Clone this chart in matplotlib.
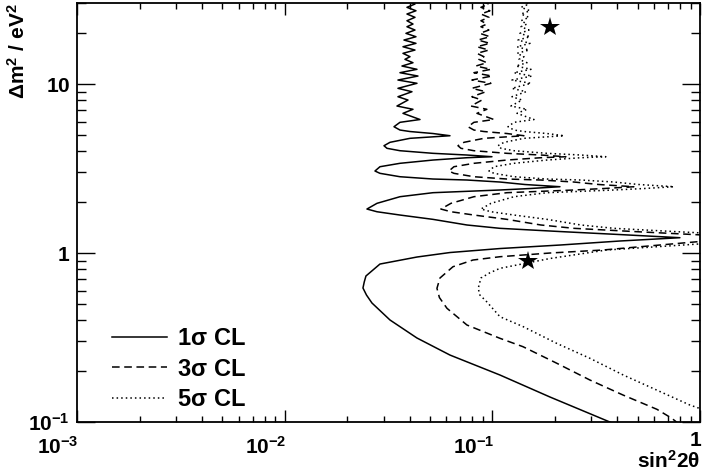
import matplotlib
matplotlib.use("Agg")
import matplotlib.pyplot as plt
from matplotlib.ticker import LogLocator, NullFormatter, FixedLocator, FixedFormatter
from matplotlib.transforms import ScaledTranslation

plt.rcParams['font.family'] = ['Liberation Sans', 'DejaVu Sans']
plt.rcParams['font.weight'] = 'bold'
plt.rcParams['mathtext.fontset'] = 'custom'
plt.rcParams['mathtext.rm'] = 'Liberation Sans:bold'
plt.rcParams['mathtext.bf'] = 'Liberation Sans:bold'
plt.rcParams['mathtext.it'] = 'Liberation Sans'

# ---- data ----
sin2_1s = [0.385, 0.1894, 0.1088, 0.06251, 0.04335, 0.03214, 0.02632, 0.02477, 0.02382,
           0.02416, 0.02462, 0.02876, 0.04335, 0.06251, 0.1088, 0.2116, 0.4115, 0.8000,
           0.4115, 0.2116, 0.1088, 0.07544, 0.05176, 0.03590, 0.02782, 0.02490,
           0.02782, 0.03590, 0.05176, 0.07544, 0.1088, 0.1517, 0.2116,
           0.1436, 0.1088, 0.07544, 0.05176, 0.03590, 0.02876, 0.02721,
           0.02876, 0.03590, 0.05176, 0.07544, 0.09957,
           0.07544, 0.05176, 0.03590, 0.03109, 0.03007,
           0.03214, 0.04012, 0.06251,
           0.05176, 0.04012, 0.03590, 0.03360,
           0.03590, 0.04482,
           0.03712, 0.04147, 0.03473, 0.03924, 0.03511, 0.04101, 0.03511, 0.04335,
           0.03511, 0.04383, 0.03590, 0.04335, 0.03671, 0.04147, 0.03795, 0.04012,
           0.03712, 0.04240, 0.03712, 0.04287, 0.03753, 0.04287, 0.03837, 0.04240,
           0.03880, 0.04147, 0.03880, 0.04240, 0.03880, 0.04287, 0.03880, 0.04240,
           0.03880]
dm2_1s = [0.0977, 0.1406, 0.1897, 0.2490, 0.3141, 0.4015, 0.5060, 0.564, 0.6208,
          0.674, 0.7313, 0.8606, 0.9470, 1.0068, 1.063, 1.115, 1.178, 1.232,
          1.286, 1.340, 1.400, 1.465, 1.582, 1.678, 1.755, 1.821,
          1.968, 2.154, 2.275, 2.318, 2.360, 2.408, 2.468,
          2.543, 2.631, 2.704, 2.741, 2.828, 2.962, 3.057,
          3.241, 3.395, 3.550, 3.664, 3.714,
          3.801, 3.890, 4.031, 4.165, 4.314,
          4.519, 4.772, 4.944,
          5.095, 5.235, 5.343, 5.589,
          5.934, 6.166,
          6.708, 7.087, 7.411, 8.040, 8.411, 9.004, 9.432, 10.10,
          10.56, 11.15, 11.67, 12.22, 12.78, 13.37, 14.00, 14.51,
          15.19, 15.89, 16.62, 17.41, 18.21, 19.05, 19.95, 20.87,
          21.83, 22.65, 23.69, 24.81, 25.96, 27.14, 28.44, 29.74,
          30.98]

sin2_3s = [0.7914, 0.7322, 0.6201, 0.4254, 0.2950, 0.2046, 0.1404, 0.1088,
           0.07544, 0.06045, 0.05560, 0.05410, 0.05593, 0.06461, 0.08066, 0.1088, 0.1894,
           0.3407, 0.9989, 1.816,
           0.934, 0.480, 0.247, 0.1713, 0.1175, 0.0815, 0.0632, 0.0565,
           0.0632, 0.0815, 0.1175, 0.1713, 0.247, 0.344, 0.480,
           0.326, 0.247, 0.1713, 0.1175, 0.0815, 0.0653, 0.0618,
           0.0653, 0.0815, 0.1175, 0.1713, 0.226,
           0.1713, 0.1175, 0.0815, 0.0706, 0.0683,
           0.0730, 0.0911, 0.1419,
           0.1175, 0.0911, 0.0815, 0.0763,
           0.0815, 0.1017,
           0.0843, 0.0941, 0.0788, 0.0891, 0.0797, 0.0931, 0.0797, 0.0984,
           0.0797, 0.0995, 0.0815, 0.0984, 0.0833, 0.0941, 0.0861, 0.0911,
           0.0843, 0.0962, 0.0843, 0.0973, 0.0852, 0.0973, 0.0871, 0.0962,
           0.0881, 0.0941, 0.0881, 0.0962, 0.0881, 0.0973, 0.0881, 0.0962,
           0.0881]
dm2_3s = [0.0973, 0.1051, 0.1189, 0.1445, 0.1772, 0.2225, 0.2791, 0.3128,
          0.3750, 0.4709, 0.545, 0.6182, 0.7112, 0.8297, 0.9091, 0.9508, 1.000,
          1.042, 1.170, 1.232,
          1.286, 1.340, 1.400, 1.465, 1.582, 1.678, 1.755, 1.821,
          1.968, 2.154, 2.275, 2.318, 2.360, 2.408, 2.468,
          2.543, 2.631, 2.704, 2.741, 2.828, 2.962, 3.057,
          3.241, 3.395, 3.550, 3.664, 3.714,
          3.801, 3.890, 4.031, 4.165, 4.314,
          4.519, 4.772, 4.944,
          5.095, 5.235, 5.343, 5.589,
          5.934, 6.166,
          6.708, 7.087, 7.411, 8.040, 8.411, 9.004, 9.432, 10.10,
          10.56, 11.15, 11.67, 12.22, 12.78, 13.37, 14.00, 14.51,
          15.19, 15.89, 16.62, 17.41, 18.21, 19.05, 19.95, 20.87,
          21.83, 22.65, 23.69, 24.81, 25.96, 27.14, 28.44, 29.74,
          30.98]

sin2_5s = [1.393, 0.999, 0.894, 0.618, 0.427, 0.295, 0.204, 0.1409, 0.1088,
           0.0939, 0.0870, 0.0855, 0.0881, 0.0974, 0.1088, 0.1894, 0.3551, 0.999, 2.832,
           1.457, 0.749, 0.385, 0.267, 0.1832, 0.1271, 0.0985, 0.0881,
           0.0985, 0.1271, 0.1832, 0.267, 0.385, 0.537, 0.749,
           0.508, 0.385, 0.267, 0.1832, 0.1271, 0.1018, 0.0963,
           0.1018, 0.1271, 0.1832, 0.267, 0.352,
           0.267, 0.1832, 0.1271, 0.1101, 0.1064,
           0.1138, 0.1420, 0.2213,
           0.1832, 0.1420, 0.1271, 0.1189,
           0.1271, 0.1587,
           0.1314, 0.1468, 0.1229, 0.1389, 0.1243, 0.1452, 0.1243, 0.1535,
           0.1243, 0.1552, 0.1271, 0.1535, 0.1300, 0.1468, 0.1343, 0.1420,
           0.1314, 0.1501, 0.1314, 0.1518, 0.1329, 0.1518, 0.1358, 0.1501,
           0.1374, 0.1468, 0.1374, 0.1501, 0.1374, 0.1518, 0.1374, 0.1501,
           0.1374]
dm2_5s = [0.1028, 0.1202, 0.1260, 0.1546, 0.1897, 0.2382, 0.2921, 0.3664, 0.4198,
          0.5150, 0.565, 0.6182, 0.7112, 0.7645, 0.8117, 0.928, 1.042, 1.132, 1.232,
          1.286, 1.340, 1.400, 1.465, 1.582, 1.678, 1.755, 1.821,
          1.968, 2.154, 2.275, 2.318, 2.360, 2.408, 2.468,
          2.543, 2.631, 2.704, 2.741, 2.828, 2.962, 3.057,
          3.241, 3.395, 3.550, 3.664, 3.714,
          3.801, 3.890, 4.031, 4.165, 4.314,
          4.519, 4.772, 4.944,
          5.095, 5.235, 5.343, 5.589,
          5.934, 6.166,
          6.708, 7.087, 7.411, 8.040, 8.411, 9.004, 9.432, 10.10,
          10.56, 11.15, 11.67, 12.22, 12.78, 13.37, 14.00, 14.51,
          15.19, 15.89, 16.62, 17.41, 18.21, 19.05, 19.95, 20.87,
          21.83, 22.65, 23.69, 24.81, 25.96, 27.14, 28.44, 29.74,
          30.98]

star_sin2 = [0.149, 0.189]
star_dm2 = [0.90, 21.8]

labels = [r'$\mathrm{1}\sigma\ \mathrm{CL}$', r'$\mathrm{3}\sigma\ \mathrm{CL}$',
          r'$\mathrm{5}\sigma\ \mathrm{CL}$']
xtick_vals = [1e-3, 1e-2, 1e-1, 1]
xtick_labels = [r'$\mathrm{10^{-3}}$', r'$\mathrm{10^{-2}}$', r'$\mathrm{10^{-1}}$', r'$\mathrm{1}$']
ytick_vals = [0.1, 1, 10]
ytick_labels = [r'$\mathrm{10^{-1}}$', r'$\mathrm{1}$', r'$\mathrm{10}$']

# ---- figure ----
fig = plt.figure(figsize=(7.02, 4.72), dpi=100)
ax = fig.add_axes([0.1097, 0.1059, 0.8875, 0.8869])
ax.set_xscale('log')
ax.set_yscale('log')
ax.set_xlim(1e-3, 1)
ax.set_ylim(0.1, 30)

lw = 1.1
ax.plot(sin2_1s, dm2_1s, color='black', lw=lw, ls='-', label=labels[0])
ax.plot(sin2_3s, dm2_3s, color='black', lw=lw, ls=(0, (5, 3)), label=labels[1])
ax.plot(sin2_5s, dm2_5s, color='black', lw=lw, ls=(0, (1, 2)), label=labels[2])
ax.plot(star_sin2, star_dm2, ls='none', marker='*', ms=15, color='black',
        markeredgewidth=0)

for s in ax.spines.values():
    s.set_linewidth(1.3)

ax.xaxis.set_major_locator(FixedLocator(xtick_vals))
ax.xaxis.set_major_formatter(FixedFormatter(xtick_labels))
ax.yaxis.set_major_locator(FixedLocator(ytick_vals))
ax.yaxis.set_major_formatter(FixedFormatter(ytick_labels))
ax.xaxis.set_minor_locator(LogLocator(base=10, subs=range(2, 10), numticks=20))
ax.yaxis.set_minor_locator(LogLocator(base=10, subs=range(2, 10), numticks=20))
ax.xaxis.set_minor_formatter(NullFormatter())
ax.yaxis.set_minor_formatter(NullFormatter())

ax.tick_params(axis='both', which='both', direction='in', top=True, right=True,
               width=1.0, labelsize=15)
ax.tick_params(axis='x', which='major', length=8.6, pad=10)
ax.tick_params(axis='x', which='minor', length=4.3)
ax.tick_params(axis='y', which='major', length=13, pad=5)
ax.tick_params(axis='y', which='minor', length=6.5)

off = ScaledTranslation(2 / 100, 0, fig.dpi_scale_trans)
xlabs = ax.get_xticklabels()
for lab in xlabs:
    lab.set_horizontalalignment('right')
    lab.set_transform(lab.get_transform() + off)
xlabs[-1].set_transform(xlabs[-1].get_transform() +
                        ScaledTranslation(0, 5 / 100, fig.dpi_scale_trans))

ax.set_xlabel(r'$\mathrm{sin^{2}2}\theta$', fontsize=15, loc='right')
ax.xaxis.set_label_coords(1.0, -0.066)
ax.set_ylabel(r'$\Delta\mathrm{m^{2}\ /\ eV^{2}}$', fontsize=15, loc='top')
ax.yaxis.set_label_coords(-0.078, 1.0)

leg = ax.legend(loc='lower left', bbox_to_anchor=(0.056, 0.026), frameon=False,
                fontsize=17, handlelength=2.35, handletextpad=0.42,
                labelspacing=0.32, borderpad=0, borderaxespad=0)

fig.savefig('out.png', dpi=100)
